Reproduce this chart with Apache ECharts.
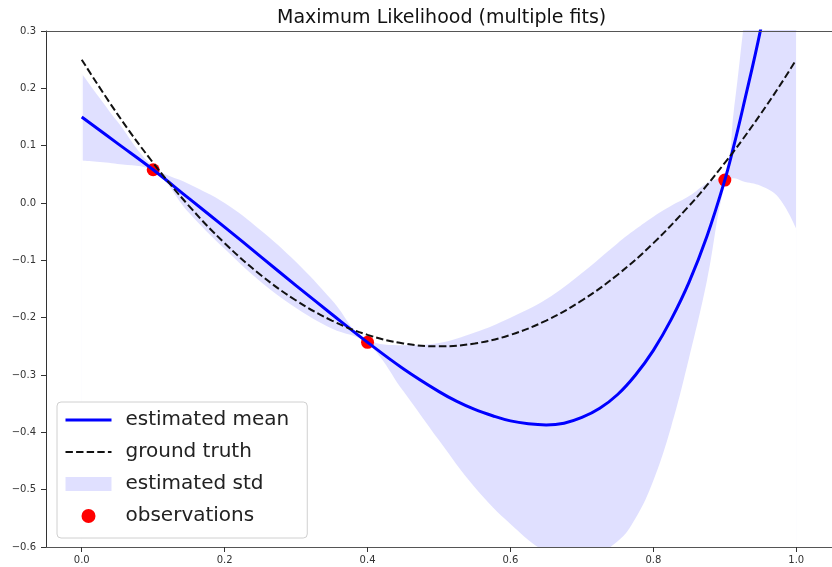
<!DOCTYPE html>
<html><head><meta charset="utf-8">
<script src="https://cdn.jsdelivr.net/npm/echarts@6/dist/echarts.min.js"></script>
<style>html,body{margin:0;padding:0;background:#fff}#c{width:832px;height:567px}</style>
</head><body><div id="c"></div>
<script>
// x positions where the ground truth was read
const truthX      = [0, 0.05, 0.1, 0.15, 0.2, 0.25, 0.3, 0.35, 0.4, 0.45, 0.5, 0.55, 0.6, 0.65, 0.7, 0.75, 0.8, 0.85, 0.875, 0.9, 0.9125, 0.925, 0.95, 0.975, 1.0];
const truthValues = [0.250, 0.155, 0.070, -0.005, -0.070, -0.125, -0.170, -0.205, -0.230, -0.245, -0.250, -0.245, -0.230, -0.205, -0.170, -0.125, -0.070, -0.005, 0.031, 0.070, 0.090, 0.111, 0.155, 0.201, 0.250];
// x positions where the std band edges were read
const bandX       = [0, 0.05, 0.1, 0.15, 0.2, 0.25, 0.3, 0.35, 0.4, 0.45, 0.5, 0.55, 0.6, 0.65, 0.7, 0.75, 0.775, 0.8, 0.825, 0.85, 0.875, 0.9, 0.9125, 0.925, 0.95, 0.975, 1.0];
const upperValues = [0.226, 0.142, 0.064, 0.033, 0.000, -0.047, -0.103, -0.169, -0.239, -0.248, -0.244, -0.226, -0.200, -0.168, -0.122, -0.070, -0.046, -0.024, -0.005, 0.012, 0.035, 0.052, 0.160, 0.295, 0.575, 0.915, 1.320];
const lowerValues = [0.074, 0.068, 0.056, -0.017, -0.080, -0.137, -0.183, -0.219, -0.245, -0.328, -0.414, -0.496, -0.560, -0.608, -0.622, -0.590, -0.550, -0.484, -0.390, -0.270, -0.135, 0.032, 0.043, 0.038, 0.030, 0.010, -0.045];
// x positions where the estimated mean was read (denser around the minimum)
const meanX       = [0, 0.05, 0.1, 0.15, 0.2, 0.25, 0.3, 0.35, 0.4, 0.45, 0.5, 0.525, 0.55, 0.575, 0.6, 0.625, 0.65, 0.675, 0.7, 0.725, 0.75, 0.775, 0.8, 0.825, 0.85, 0.875, 0.9, 0.9125, 0.925, 0.95, 0.975, 1.0];
const meanValues  = [0.150, 0.104, 0.058, 0.008, -0.042, -0.093, -0.144, -0.194, -0.243, -0.289, -0.329, -0.346, -0.360, -0.371, -0.380, -0.385, -0.387, -0.384, -0.374, -0.358, -0.334, -0.300, -0.257, -0.203, -0.138, -0.058, 0.040, 0.099, 0.164, 0.302, 0.465, 0.660];
const obsX = [0.1, 0.4, 0.9];
const obsY = [0.058, -0.243, 0.040];
const xTicks = [0.0, 0.2, 0.4, 0.6, 0.8, 1.0];
const yTicks = [-0.6, -0.5, -0.4, -0.3, -0.2, -0.1, 0.0, 0.1, 0.2, 0.3];
const bandEnds = [0, 1];

const FONT = 'DejaVu Sans';
const BAND = 'rgba(0,0,255,0.12)';
const SM = 0.4;
const pair = (xs, ys) => xs.map((x, i) => [x, ys[i]]);
const fmt = v => Number(v).toFixed(1).replace('-', '\u2212');

const chart = echarts.init(document.getElementById('c'), null, {renderer: 'canvas'});
chart.setOption({
  animation: false,
  backgroundColor: '#fff',
  title: {
    text: 'Maximum Likelihood (multiple fits)',
    left: 272, top: 4,
    textStyle: {fontFamily: FONT, fontSize: 19, fontWeight: 'normal', color: '#111'}
  },
  grid: {left: 46, right: -6, top: 31, bottom: 20, containLabel: false},
  xAxis: [{
    type: 'value', min: -0.05, max: 1.05, position: 'bottom', z: 10,
    axisLine: {show: true, onZero: false, lineStyle: {color: '#555', width: 1}},
    axisTick: {show: true, length: 5, customValues: xTicks, lineStyle: {color: '#333'}},
    axisLabel: {customValues: xTicks, formatter: fmt, margin: 8, fontFamily: FONT, fontSize: 10, color: '#333'},
    splitLine: {show: false}
  }, {
    type: 'value', min: -0.05, max: 1.05, position: 'top', z: 10,
    axisLine: {show: true, onZero: false, lineStyle: {color: '#555', width: 1}},
    axisTick: {show: false}, axisLabel: {show: false}, splitLine: {show: false}
  }],
  yAxis: {
    type: 'value', min: -0.6, max: 0.3, z: 10,
    axisLine: {show: true, onZero: false, lineStyle: {color: '#333', width: 1}},
    axisTick: {show: true, length: 5, customValues: yTicks, lineStyle: {color: '#333'}},
    axisLabel: {customValues: yTicks, formatter: fmt, margin: 10, fontFamily: FONT, fontSize: 10, color: '#333'},
    splitLine: {show: false}
  },
  legend: {
    orient: 'vertical', left: 57, top: 402, z: 20,
    data: [
      {name: 'estimated mean', itemStyle: {opacity: 0}, lineStyle: {width: 3, color: '#0000ff'}},
      {name: 'ground truth', itemStyle: {opacity: 0}, lineStyle: {width: 2, color: '#111', type: [7.4, 3.2]}},
      {name: 'estimated std', icon: 'rect', itemStyle: {color: BAND}},
      {name: 'observations', icon: 'circle', itemStyle: {color: '#ff0000'}}
    ],
    itemWidth: 46, itemHeight: 14, itemGap: 10,
    padding: [7, 18, 11, 7],
    backgroundColor: 'rgba(255,255,255,0.8)', borderColor: '#d0d0d0', borderWidth: 1, borderRadius: 4,
    textStyle: {fontFamily: FONT, fontSize: 20, color: '#222', lineHeight: 22, padding: [0, 0, 0, 9]},
    selectedMode: false
  },
  series: [
    {
      name: 'estimated std', type: 'line', data: pair(bandX, upperValues),
      symbol: 'none', smooth: SM,
      itemStyle: {color: BAND},
      lineStyle: {opacity: 0},
      areaStyle: {color: BAND, opacity: 1, origin: 'start'},
      silent: true, z: 1
    },
    {
      name: 'std lower', type: 'line', data: pair(bandX, lowerValues),
      symbol: 'none', smooth: SM,
      itemStyle: {color: '#fff'},
      lineStyle: {opacity: 0},
      areaStyle: {color: '#ffffff', opacity: 1, origin: 'start'},
      markLine: {
        silent: true, symbol: 'none', label: {show: false}, z: 2,
        lineStyle: {color: '#ffffff', width: 1.5, type: 'solid', opacity: 1},
        data: bandEnds.map(v => ({xAxis: v}))
      },
      silent: true, z: 2
    },
    {
      name: 'observations', type: 'scatter', data: pair(obsX, obsY),
      symbol: 'circle', symbolSize: 13, itemStyle: {color: '#ff0000', opacity: 1}, z: 3
    },
    {
      name: 'estimated mean', type: 'line', data: pair(meanX, meanValues),
      symbol: 'none', smooth: SM, itemStyle: {color: '#0000ff'},
      lineStyle: {color: '#0000ff', width: 3}, z: 4
    },
    {
      name: 'ground truth', type: 'line', data: pair(truthX, truthValues),
      symbol: 'none', smooth: SM, itemStyle: {color: '#000'},
      lineStyle: {color: '#111', width: 2, type: [7.4, 3.2]}, z: 5
    }
  ]
});
</script></body></html>
